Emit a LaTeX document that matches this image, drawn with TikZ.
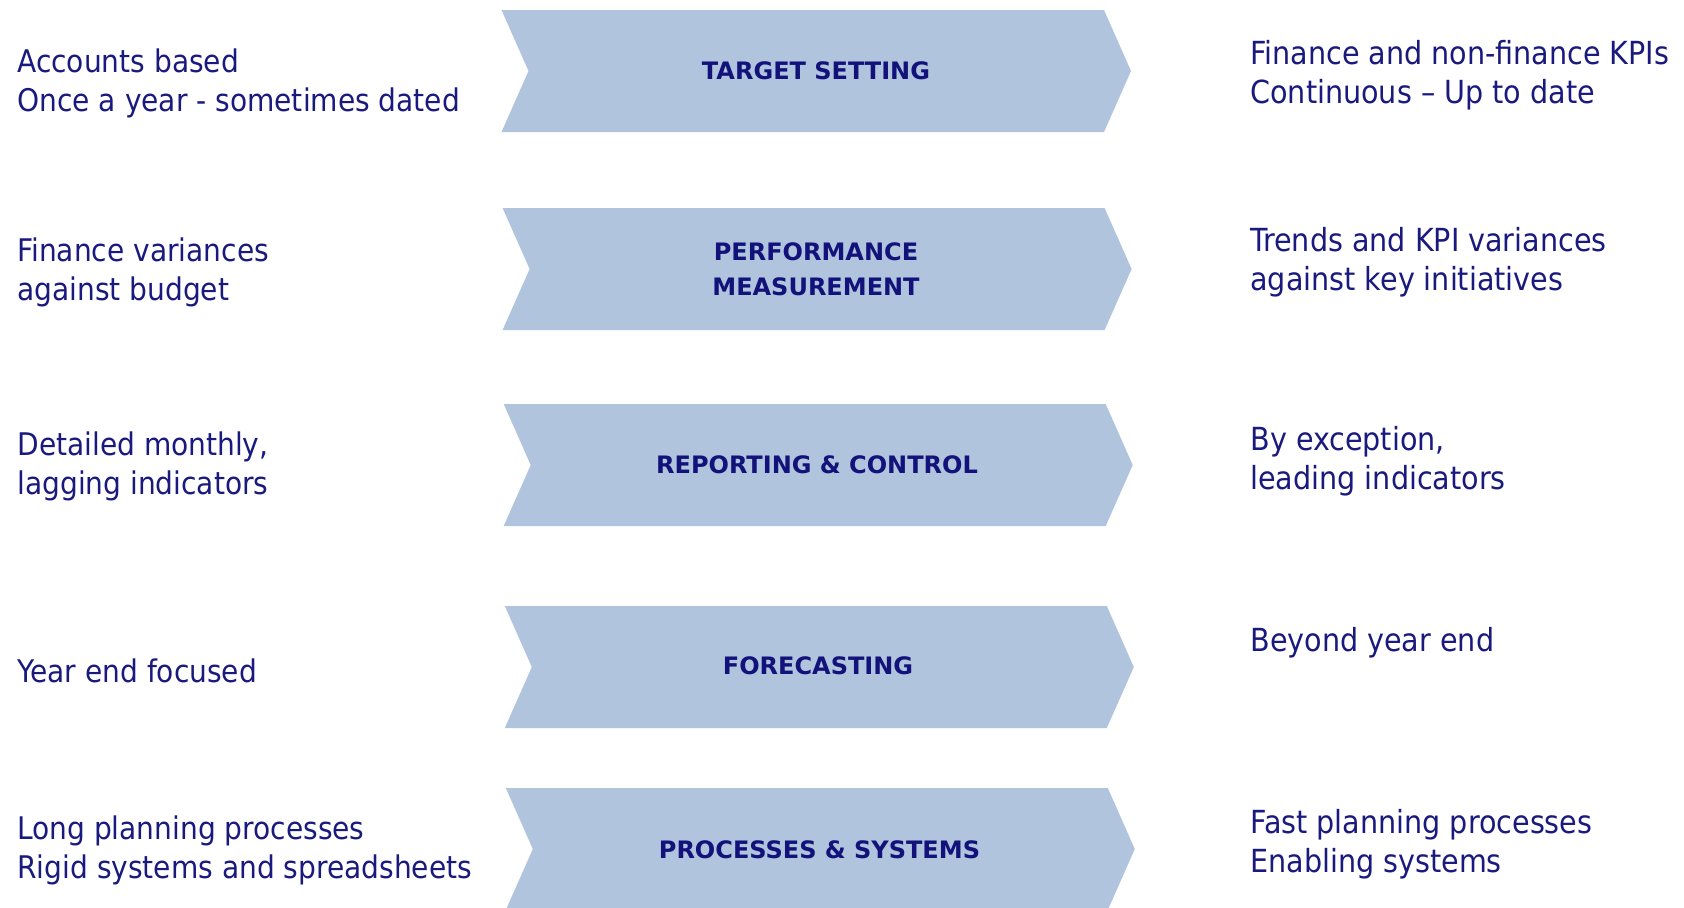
\documentclass[tikz,border=0pt]{standalone}
\usepackage{fontspec}
\setmainfont{DejaVu Sans Condensed}
\newfontfamily\labfont{DejaVu Sans}
\definecolor{chevfill}{HTML}{B0C4DE}
\definecolor{navy}{HTML}{1A1A7E}
\definecolor{labnavy}{HTML}{12127A}
\newcommand\mychev[5]{% name, left x, top y, width, height
  \fill[chevfill] (#2,#3) coordinate (#1tl) -- ++(#4,0) coordinate (#1tr)
    -- ++(27,#5/2) coordinate (#1tip) -- ++(-27,#5/2) coordinate (#1br)
    -- ++(-#4,0) coordinate (#1bl) -- ++(27,-#5/2) coordinate (#1notch) -- cycle;
}
\begin{document}
\begin{tikzpicture}[x=0.5pt,y=-0.5pt,
  side/.style={anchor=west, align=left, text=navy, font=\fontsize{15.6}{19.5}\selectfont, inner sep=0pt},
  rside/.style={side, font=\fontsize{15.9}{19.5}\selectfont},
  lab/.style={align=center, text=labnavy, font=\labfont\bfseries\fontsize{12}{17.5}\selectfont, inner sep=0pt}]
\useasboundingbox (0,0) rectangle (1684,907);
\mychev{a}{501.5}{10}{602.5}{122}
\mychev{b}{502.6}{208}{602}{122}
\mychev{c}{503.7}{404}{602}{122}
\mychev{d}{504.8}{606}{602}{122}
\mychev{e}{505.8}{788}{602}{122}
\node[lab] (la) at (816,71) {TARGET SETTING};
\node[lab] (lb) at (816,269) {PERFORMANCE\\MEASUREMENT};
\node[lab] (lc) at (817,465) {REPORTING \& CONTROL};
\node[lab] (ld) at (818,666) {FORECASTING};
\node[lab] (le) at (819.5,850) {PROCESSES \& SYSTEMS};
\node[side] (l1) at (17,83.5) {Accounts based\\Once a year - sometimes dated};
\node[side] (l2) at (17,272) {Finance variances\\against budget};
\node[side] (l3) at (17,466.5) {Detailed monthly,\\lagging indicators};
\node[side] (l4) at (17,671) {Year end focused};
\node[side] (l5) at (17,850.5) {Long planning processes\\Rigid systems and spreadsheets};
\node[rside] (r1) at (1250,75.5) {Finance and non-finance KPIs\\Continuous – Up to date};
\node[rside] (r2) at (1250,262.5) {Trends and KPI variances\\against key initiatives};
\node[rside] (r3) at (1250,461) {By exception,\\leading indicators};
\node[rside] (r4) at (1250,643) {Beyond year end};
\node[rside] (r5) at (1250,844.5) {Fast planning processes\\Enabling systems};
\end{tikzpicture}
\end{document}
